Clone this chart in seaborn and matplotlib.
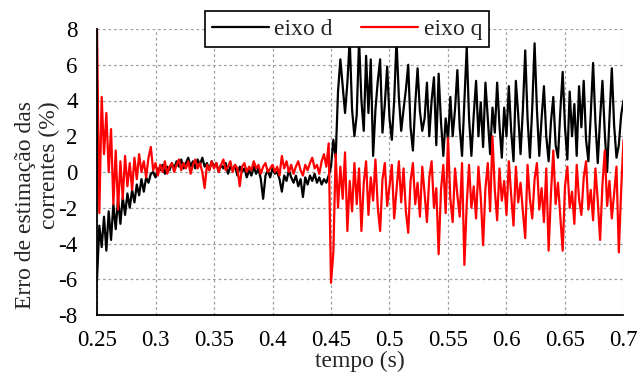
import numpy as np
import pandas as pd
import matplotlib
matplotlib.use("Agg")
import matplotlib.pyplot as plt
import seaborn as sns
from matplotlib.lines import Line2D

# sampling instants (s)
tempo = np.linspace(0.25, 0.70, 226)

# current estimation error, d axis (%)
eixo_d = [
    -6.0, -3.0, -4.2, -2.5, -4.4, -2.2, -3.8, -1.8, -3.2, -1.5,
    -2.9, -1.4, -2.4, -1.2, -2.0, -1.0, -1.7, -0.7, -1.3, -0.4,
    -1.1, -0.3, -0.6, -0.1, 0.0, -0.3, 0.2, 0.1, 0.4, -0.1,
    0.3, 0.1, 0.5, 0.2, 0.6, 0.3, 0.7, 0.2, 0.5, 0.8,
    0.3, 0.6, 0.2, 0.7, 0.4, 0.8, 0.3, 0.5, 0.1, 0.6,
    0.3, 0.5, 0.0, 0.4, 0.2, 0.5, -0.1, 0.3, 0.1, 0.4,
    -0.2, 0.3, 0.0, 0.2, -0.3, 0.1, -0.2, 0.3, -0.1, 0.2,
    -0.4, -1.5, -0.2, 0.1, -0.3, 0.2, -0.1, 0.0, -0.4, -1.1,
    -0.2, -0.5, 0.1, -0.3, -0.6, -0.2, -0.8, -0.4, -1.4, -0.3,
    -0.7, -0.2, -0.5, -0.1, -0.6, -0.3, -0.7, -0.4, -0.6, -0.2,
    0.3, 1.8, 0.8, 4.5, 6.3, 4.8, 3.3, 5.0, 7.4, 3.5,
    2.0, 3.2, 7.4, 4.0, 2.3, 6.5, 3.3, 6.3, 0.9, 3.5,
    5.1, 6.3, 2.2, 3.8, 5.9, 3.0, 1.8, 4.0, 7.4, 4.2,
    2.3, 3.5, 4.6, 6.0, 2.5, 1.2, 3.8, 5.8, 3.4, 2.3,
    3.0, 5.0, 2.0, 4.0, 5.3, 1.5, 5.5, 2.8, 0.9, 3.0,
    1.8, 4.2, 2.0, 3.5, 5.7, 2.5, 0.9, 4.0, 7.0, 3.0,
    0.9, 3.2, 5.1, 2.0, 3.9, 1.4, 5.0, 3.0, 1.0, 3.6,
    2.2, 5.0, 2.6, 0.8, 3.6, 2.0, 4.8, 2.3, 0.6, 5.1,
    3.2, 1.0, 3.5, 6.8, 3.0, 0.8, 3.6, 7.2, 3.5, 0.9,
    3.0, 4.8, 2.0, 0.6, 2.8, 4.2, 1.5, 0.8, 3.4, 5.6,
    2.5, 0.7, 4.5, 2.0, 3.8, 0.9, 4.8, 2.5, 5.1, 1.8,
    0.6, 3.2, 6.1, 2.8, 0.5, 3.0, 5.1, 2.2, 0.0, 3.0,
    5.8, 2.6, 0.8, 1.5, 3.2, 4.0,
]

# current estimation error, q axis (%)
eixo_q = [
    8.0, -2.3, 4.2, 1.0, 3.3, 0.0, 2.4, -1.8, 1.2, -2.1,
    0.6, -1.5, 0.9, -0.8, 0.5, -1.0, 0.8, -0.4, 1.0, 0.0,
    0.6, -0.3, 0.8, 1.4, 0.1, 0.5, -0.2, 0.4, 0.0, 0.6,
    -0.1, 0.3, 0.5, 0.0, 0.4, 0.7, 0.1, 0.5, 0.2, 0.6,
    -0.1, 0.4, 0.7, 0.2, 0.5, 0.0, -0.9, 0.4, 0.1, 0.6,
    0.2, 0.5, 0.0, 0.4, 0.7, 0.1, 0.3, 0.6, 0.0, 0.4,
    0.2, -0.8, 0.3, 0.5, 0.0, 0.3, 0.1, 0.6, 0.2, 0.4,
    -0.1, 0.3, 0.5, 0.0, 0.2, 0.4, 0.0, 0.3, -0.2, 0.9,
    0.2, 0.6, 0.0, 0.4, -0.1, 0.3, 0.6, 0.1, -0.2, 0.4,
    0.1, 0.5, 0.8, 0.2, 0.4, -0.1, 0.6, 1.0, 0.3, 1.6,
    -6.2, -4.5, 1.0, -2.0, 0.3, -1.5, 1.1, -3.3, -0.5, -2.2,
    0.5, -1.8, 0.2, -3.3, -0.6, 0.6, -2.4, -0.3, -1.6, 0.7,
    -2.0, -3.3, -0.4, 0.5, -1.9, -0.8, 0.4, -2.6, -1.0, 0.6,
    -1.7, 0.2, -2.2, -3.4, -0.5, 0.5, -1.8, -0.6, -2.5, 0.3,
    -1.2, -2.8, -0.3, 0.6, -2.0, -0.9, -4.6, -1.0, 0.4, -2.3,
    1.9, -1.5, -2.8, 0.2, -1.3, -2.5, 0.5, -5.2, -1.8, 0.4,
    -2.0, -0.8, -2.6, 0.3, -1.4, -4.1, -0.9, 0.5, -2.2, 2.0,
    -1.0, -2.7, 0.2, -1.6, -0.5, -2.4, 0.6, -1.3, -3.0, 0.3,
    -1.7, -0.6, -2.2, -3.7, 0.4, -1.5, -2.6, -0.4, 0.5, -2.1,
    -0.9, -2.8, 0.2, -4.4, -1.2, 1.2, -1.8, -0.6, -2.5, -4.4,
    -0.8, 0.3, -2.0, -1.1, -2.9, 0.4, -1.5, -2.4, -0.3, 0.6,
    -2.1, -1.0, -2.7, 0.2, -1.6, -3.8, -0.7, 1.2, -1.9, -0.5,
    -2.6, -1.2, 0.3, -4.5, -1.0, 1.8,
]

series_names = ["eixo d", "eixo q"]
series_colors = ["black", "red"]
x_ticks = [0.25, 0.3, 0.35, 0.4, 0.45, 0.5, 0.55, 0.6, 0.65, 0.7]
x_tick_labels = ["0.25", "0.3", "0.35", "0.4", "0.45", "0.5", "0.55", "0.6", "0.65", "0.7"]
y_ticks = [-8, -6, -4, -2, 0, 2, 4, 6, 8]

df = pd.DataFrame({
    "tempo": np.concatenate([tempo, tempo]),
    "erro": np.concatenate([eixo_d, eixo_q]),
    "eixo": [series_names[0]] * len(tempo) + [series_names[1]] * len(tempo),
})

sns.set_style("white")
plt.rcParams["font.family"] = ["Liberation Serif", "DejaVu Serif"]
plt.rcParams["axes.unicode_minus"] = False

fig = plt.figure(figsize=(6.38, 3.72), dpi=100)
ax = fig.add_axes([97 / 638, 1 - 315 / 372, (623.5 - 97) / 638, (315 - 29) / 372])

sns.lineplot(data=df, x="tempo", y="erro", hue="eixo",
             palette=dict(zip(series_names, series_colors)),
             estimator=None, sort=False, linewidth=1.6, ax=ax, legend=False)

ax.set_xlim(0.25, 0.7)
ax.set_ylim(-8, 8)
ax.set_xticks(x_ticks)
ax.set_xticklabels(x_tick_labels)
ax.set_yticks(y_ticks)
ax.tick_params(axis="both", length=0, labelsize=16.5, colors="black")
ax.tick_params(axis="x", pad=11)
ax.tick_params(axis="y", pad=14)

ax.grid(True, color="#a0a0a0", linestyle=(0, (2.2, 2.2)), linewidth=0.9)
for s in ["top", "right"]:
    ax.spines[s].set_visible(False)
for s in ["left", "bottom"]:
    ax.spines[s].set_color("black")
    ax.spines[s].set_linewidth(1.3)
    ax.spines[s].set_zorder(3)

ax.set_xlabel("tempo (s)", fontsize=17)
ax.xaxis.set_label_coords(0.5, -0.124)
ax.set_ylabel("Erro de estimação das\ncorrentes (%)", fontsize=17,
              multialignment="right", va="center", ha="center")
ax.yaxis.set_label_coords(-0.113, 0.385)

handles = [Line2D([0], [0], color=c, linewidth=1.6) for c in series_colors]
leg = ax.legend(handles, series_names, loc="center", bbox_to_anchor=(0.475, 1.0),
                ncol=2, fontsize=17, frameon=True, fancybox=False,
                handlelength=2.4, handletextpad=0.25, columnspacing=1.2,
                borderpad=0.3, borderaxespad=0)
leg.get_frame().set_edgecolor("black")
leg.get_frame().set_linewidth(1.2)
leg.get_frame().set_facecolor("white")
leg.get_frame().set_alpha(1)
leg.set_zorder(10)

fig.savefig("out.png", dpi=100)
